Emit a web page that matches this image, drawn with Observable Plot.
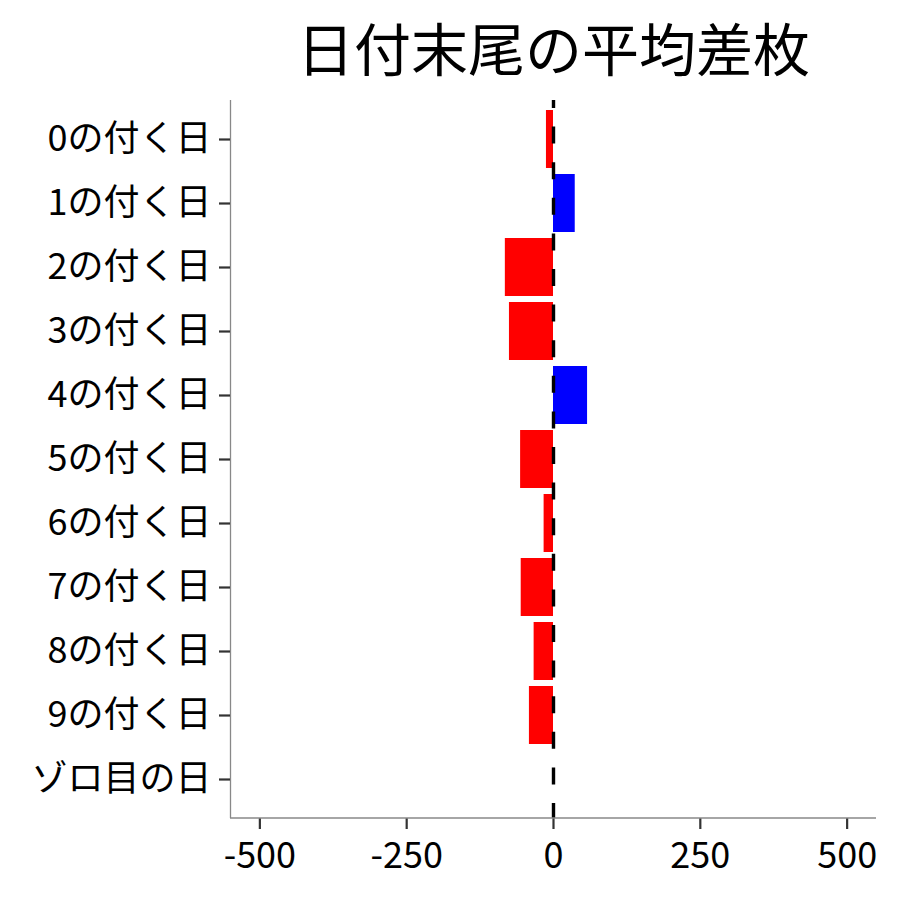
<!DOCTYPE html>
<html>
<head>
<meta charset="utf-8">
<script src="https://cdn.jsdelivr.net/npm/d3@7"></script>
<script src="https://cdn.jsdelivr.net/npm/@observablehq/plot@0.6"></script>
<style>
  html, body { margin: 0; padding: 0; background: #fff; }
  #chart { width: 900px; height: 900px; }
</style>
</head>
<body>
<div id="chart"></div>
<script>
const title = "日付末尾の平均差枚";
const categories = ["0の付く日","1の付く日","2の付く日","3の付く日","4の付く日","5の付く日","6の付く日","7の付く日","8の付く日","9の付く日","ゾロ目の日"];
const values = [-12, 37, -82, -75, 58, -56, -16, -55, -33, -41, null];
const xTicks = [-500, -250, 0, 250, 500];
const xDomain = [-550, 550];

const data = categories.map((c, i) => ({cat: c, v: values[i]})).filter(d => d.v != null);

const W = 900, H = 900, mT = 100, mB = 82, mL = 230, mR = 24;
const font = "'Noto Sans CJK JP', 'Noto Sans', sans-serif";

const plot = Plot.plot({
  width: W, height: H,
  marginTop: mT, marginBottom: mB, marginLeft: mL, marginRight: mR,
  style: {fontFamily: font, background: "#fff", color: "#000"},
  x: {domain: xDomain},
  y: {domain: categories, type: "band", paddingInner: 0.1, paddingOuter: 0.15},
  color: {type: "identity"},
  marks: [
    Plot.barX(data, {x: "v", y: "cat", fill: d => d.v < 0 ? "#ff0000" : "#0000ff"}),
    Plot.ruleX([0], {stroke: "#000", strokeWidth: 3.4, strokeDasharray: "17,18.6", strokeDashoffset: 9}),
    Plot.ruleX([xDomain[0]], {stroke: "#888", strokeWidth: 1.3}),
    Plot.axisX({ticks: xTicks, tickFormat: d => String(d), tickSize: 11, tickPadding: 13, fontSize: 36, stroke: "#333", strokeWidth: 2.2, fill: "#000", label: null}),
    Plot.axisY({tickSize: 11, tickPadding: 8, fontSize: 36, stroke: "#333", strokeWidth: 2.2, fill: "#000", label: null}),
    Plot.text([title], {x: () => 0, frameAnchor: "top", lineAnchor: "bottom", dy: -30, fontSize: 57, fill: "#000"})
  ]
});

// bottom axis line along the x scale's range
const xr = plot.scale("x").range;
d3.select(plot).append("line")
  .attr("x1", xr[0]).attr("x2", xr[1])
  .attr("y1", H - mB).attr("y2", H - mB)
  .attr("stroke", "#888").attr("stroke-width", 1.3);

document.getElementById("chart").appendChild(plot);
</script>
</body>
</html>
